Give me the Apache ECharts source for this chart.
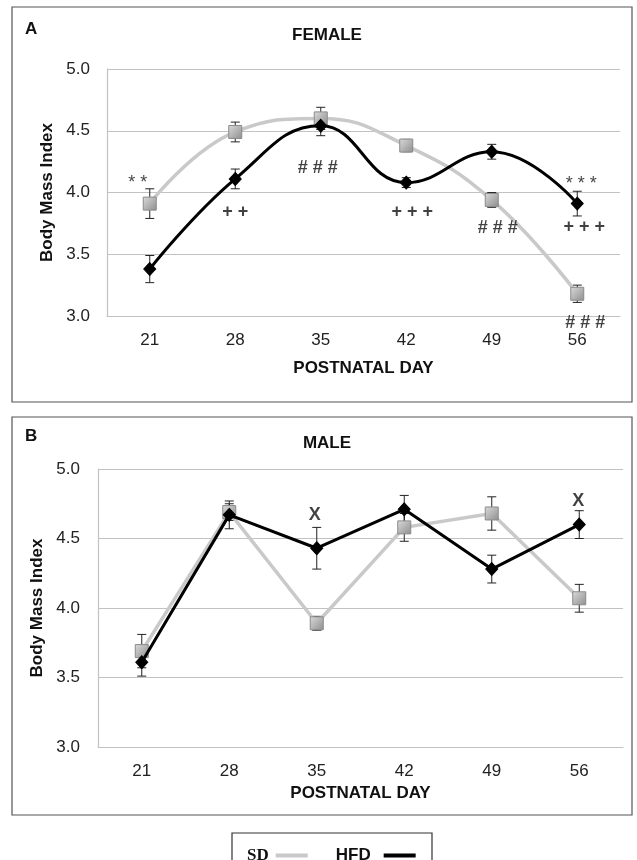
<!DOCTYPE html>
<html>
<head>
<meta charset="utf-8">
<script src="https://cdn.jsdelivr.net/npm/echarts@6/dist/echarts.min.js"></script>
<style>
html,body{margin:0;padding:0;background:#fff;}
#chart{width:637px;height:860px;}
</style>
</head>
<body>
<div id="chart"></div>
<script>
// ---- data ----
const categories = ['21', '28', '35', '42', '49', '56'];
const yTicks = [3.0, 3.5, 4.0, 4.5, 5.0];

const femaleSD     = [3.91, 4.49, 4.60, 4.38, 3.94, 3.18];
const femaleSDErr  = [0.12, 0.08, 0.09, 0.05, 0.06, 0.07];
const femaleHFD    = [3.38, 4.11, 4.54, 4.08, 4.33, 3.91];
const femaleHFDErr = [0.11, 0.08, 0.08, 0.04, 0.06, 0.10];

const maleSD     = [3.69, 4.69, 3.89, 4.58, 4.68, 4.07];
const maleSDErr  = [0.12, 0.06, 0.05, 0.10, 0.12, 0.10];
const maleHFD    = [3.61, 4.67, 4.43, 4.71, 4.28, 4.60];
const maleHFDErr = [0.10, 0.10, 0.15, 0.10, 0.10, 0.10];

// significance annotations: [category index, anchor series, text]
const femaleNotes = [
  [0, 'SD', '* *'], [1, 'HFD', '+ +'], [2, 'HFD', '# # #'], [3, 'HFD', '+ + +'],
  [4, 'SD', '# # #'], [5, 'HFD', '* * *'], [5, 'HFD', '+ + +'], [5, 'SD', '# # #']
];
const maleNotes = [[2, 'HFD', 'X'], [5, 'HFD', 'X']];

// ---- styling / layout (not data) ----
const femaleNoteOffsets = [[-12, -21], [0, 33], [-3, 42], [6, 29], [6, 28], [4, -20], [7, 23], [8, 29]];
const maleNoteOffsets = [[-2, -33], [-1, -24]];

const FONT = 'Liberation Sans, Arial, sans-serif';
const GRID_COLOR = '#c2c2c2';
const SD_LINE = '#c9c9c9';

const sdSymbolStyle = {
  color: new echarts.graphic.LinearGradient(0, 0, 1, 1, [
    {offset: 0, color: '#dcdcdc'}, {offset: 0.5, color: '#b4b4b4'}, {offset: 1, color: '#8e8e8e'}
  ]),
  borderColor: '#8a8a8a', borderWidth: 1
};

function errSeries(xi, vals, errs, z) {
  return {
    type: 'custom', xAxisIndex: xi, yAxisIndex: xi, z: z, silent: true,
    data: vals.map((v, i) => [i, v - errs[i], v + errs[i]]),
    encode: {x: 0, y: [1, 2]},
    renderItem: function (params, api) {
      const x = api.value(0);
      const lo = api.coord([x, api.value(1)]);
      const hi = api.coord([x, api.value(2)]);
      const w = 4.5;
      const st = {stroke: '#222', lineWidth: 1};
      return {type: 'group', children: [
        {type: 'line', shape: {x1: hi[0], y1: hi[1], x2: lo[0], y2: lo[1]}, style: st},
        {type: 'line', shape: {x1: hi[0] - w, y1: hi[1], x2: hi[0] + w, y2: hi[1]}, style: st},
        {type: 'line', shape: {x1: lo[0] - w, y1: lo[1], x2: lo[0] + w, y2: lo[1]}, style: st}
      ]};
    }
  };
}

function noteSeries(xi, notes, offsets, sd, hfd, fontSize) {
  return {
    type: 'scatter', xAxisIndex: xi, yAxisIndex: xi, silent: true, z: 10,
    symbolSize: 1, itemStyle: {color: 'rgba(0,0,0,0)'},
    data: notes.map((n, k) => {
      const star = n[2].indexOf('*') >= 0;
      return {
        value: [n[0], n[1] === 'SD' ? sd[n[0]] : hfd[n[0]]],
        label: {
          show: true, position: 'inside', formatter: n[2], offset: offsets[k],
          color: '#111', fontFamily: FONT, fontWeight: star ? 'normal' : 'bold',
          fontSize: fontSize
        }
      };
    })
  };
}

function lineSeries(name, xi, vals, smooth) {
  const isSD = name === 'SD';
  return {
    name: name, type: 'line', xAxisIndex: xi, yAxisIndex: xi, data: vals,
    smooth: smooth ? 0.45 : false, z: isSD ? 3 : 4,
    symbol: isSD ? 'rect' : 'diamond', symbolSize: isSD ? 13 : [12, 13],
    lineStyle: {color: isSD ? SD_LINE : '#000', width: isSD ? 3.5 : 3},
    itemStyle: isSD ? sdSymbolStyle : {color: '#000', borderColor: '#000'},
    emphasis: {disabled: true}
  };
}

function xAxisCfg(gi, nameGap) {
  return {
    type: 'category', gridIndex: gi, data: categories, boundaryGap: true,
    name: 'POSTNATAL DAY', nameLocation: 'middle', nameGap: nameGap,
    nameTextStyle: {fontFamily: FONT, fontWeight: 'bold', fontSize: 17, color: '#111'},
    axisLine: {lineStyle: {color: GRID_COLOR, width: 1.2}},
    axisTick: {show: false},
    axisLabel: {fontFamily: FONT, fontSize: 17, color: '#222', margin: 16}
  };
}
function yAxisCfg(gi, nameGap, labelMargin) {
  return {
    type: 'value', gridIndex: gi, min: yTicks[0], max: yTicks[yTicks.length - 1],
    interval: yTicks[1] - yTicks[0],
    name: 'Body Mass Index', nameLocation: 'middle', nameGap: nameGap,
    nameTextStyle: {fontFamily: FONT, fontWeight: 'bold', fontSize: 17, color: '#111'},
    axisLine: {show: true, lineStyle: {color: GRID_COLOR, width: 1.2}},
    axisTick: {show: false},
    splitLine: {lineStyle: {color: GRID_COLOR, width: 1.2}},
    axisLabel: {fontFamily: FONT, fontSize: 17, color: '#222', margin: labelMargin,
      formatter: v => v.toFixed(1)}
  };
}

const chart = echarts.init(document.getElementById('chart'), null, {renderer: 'canvas'});
chart.setOption({
  animation: false,
  backgroundColor: '#fff',
  grid: [
    {left: 107, top: 69, width: 513, height: 247},
    {left: 98, top: 469, width: 525, height: 278}
  ],
  xAxis: [xAxisCfg(0, 44), xAxisCfg(1, 38)],
  yAxis: [yAxisCfg(0, 47, 17), yAxisCfg(1, 47, 18)],
  legend: {
    left: 242, top: 842, itemGap: 28, itemWidth: 32, itemHeight: 4, align: 'right',
    icon: 'rect', selectedMode: false,
    textStyle: {fontFamily: FONT, fontWeight: 'bold', fontSize: 17, color: '#111'},
    data: [
      {name: 'SD', itemStyle: {color: SD_LINE, borderWidth: 0, borderColor: SD_LINE},
        textStyle: {fontFamily: 'Liberation Serif, Times New Roman, serif', fontWeight: 'bold', fontSize: 17, padding: [0, 2, 0, 0]}},
      {name: 'HFD', itemStyle: {color: '#000', borderWidth: 0}, textStyle: {padding: [0, 8, 0, 0]}}
    ]
  },
  graphic: [
    {type: 'rect', shape: {x: 12, y: 7, width: 620, height: 395}, style: {fill: 'none', stroke: '#555', lineWidth: 1.2}, z: -1},
    {type: 'rect', shape: {x: 12, y: 417, width: 620, height: 398}, style: {fill: 'none', stroke: '#555', lineWidth: 1.2}, z: -1},
    {type: 'rect', shape: {x: 232, y: 833, width: 200, height: 40}, style: {fill: 'none', stroke: '#333', lineWidth: 1.2}, z: -1},
    {type: 'text', x: 25, y: 29, style: {text: 'A', font: 'bold 17px ' + FONT, fill: '#111', textVerticalAlign: 'middle'}},
    {type: 'text', x: 25, y: 436, style: {text: 'B', font: 'bold 17px ' + FONT, fill: '#111', textVerticalAlign: 'middle'}},
    {type: 'text', x: 327, y: 35, style: {text: 'FEMALE', font: 'bold 17px ' + FONT, fill: '#111', textAlign: 'center', textVerticalAlign: 'middle'}},
    {type: 'text', x: 327, y: 443, style: {text: 'MALE', font: 'bold 17px ' + FONT, fill: '#111', textAlign: 'center', textVerticalAlign: 'middle'}}
  ],
  series: [
    errSeries(0, femaleSD, femaleSDErr, 2),
    errSeries(0, femaleHFD, femaleHFDErr, 2),
    lineSeries('SD', 0, femaleSD, true),
    lineSeries('HFD', 0, femaleHFD, true),
    noteSeries(0, femaleNotes, femaleNoteOffsets, femaleSD, femaleHFD, 18),
    errSeries(1, maleSD, maleSDErr, 2),
    errSeries(1, maleHFD, maleHFDErr, 2),
    lineSeries('SD', 1, maleSD, false),
    lineSeries('HFD', 1, maleHFD, false),
    noteSeries(1, maleNotes, maleNoteOffsets, maleSD, maleHFD, 18)
  ]
});
</script>
</body>
</html>
